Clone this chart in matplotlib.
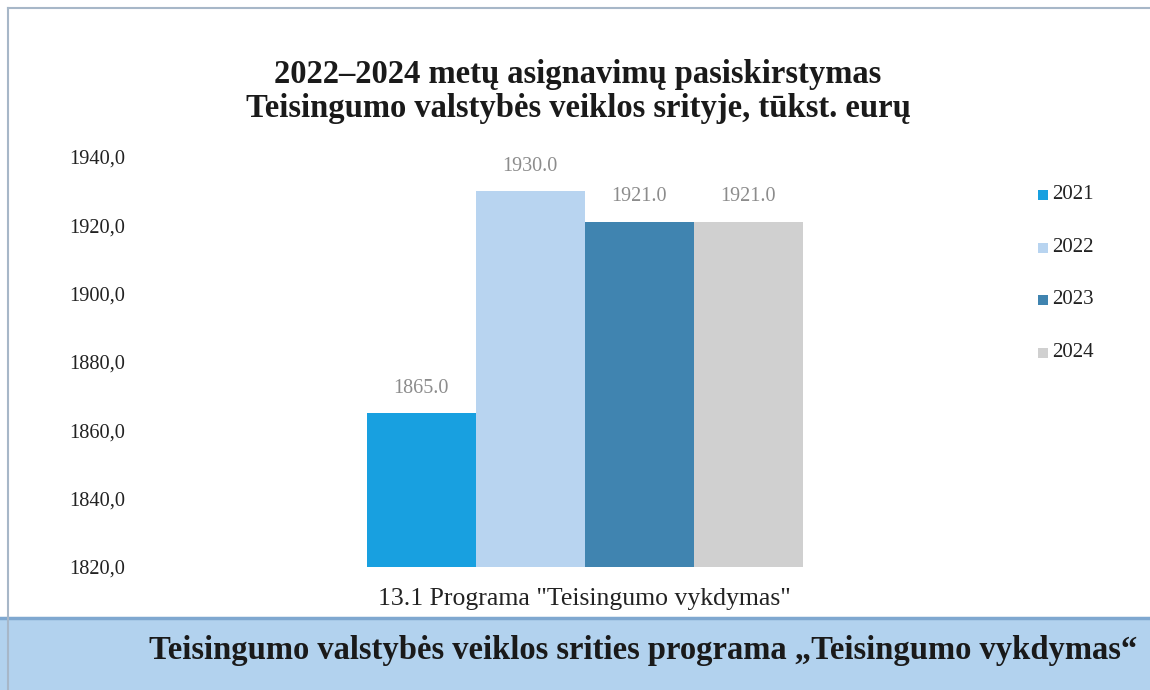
import matplotlib
matplotlib.use("Agg")
import matplotlib.pyplot as plt
from matplotlib.patches import Rectangle
from matplotlib.lines import Line2D

# data
years = ["2021", "2022", "2023", "2024"]
values = [1865.0, 1930.0, 1921.0, 1921.0]
colors = ["#18A0E0", "#B8D4F0", "#4084B0", "#D0D0D0"]
category = '13.1 Programa "Teisingumo vykdymas"'
yticks = [1820, 1840, 1860, 1880, 1900, 1920, 1940]

W, H = 1150, 690
fig = plt.figure(figsize=(W / 100, H / 100), dpi=100)
serif = "Liberation Serif"

# bottom band
band_top = 618
fig.add_artist(Rectangle((0, 0), 1, (H - band_top) / H, transform=fig.transFigure,
                         facecolor="#B2D2EE", edgecolor="none", zorder=-5))
fig.add_artist(Line2D([0, 1], [(H - band_top) / H] * 2, color="#7FA8D0", lw=2.5, zorder=-4))
fig.text(643 / W, 1 - 651 / H, "Teisingumo valstybės veiklos srities programa „Teisingumo vykdymas“",
         ha="center", va="center", fontsize=23.5, fontweight="bold", family=serif, color="#1a1a1a")

# frame lines of the scanned page
fig.add_artist(Line2D([8 / W, 8 / W], [1 - 8 / H, 0], color="#A7B7C8", lw=1.5))
fig.add_artist(Line2D([8 / W, 1], [1 - 8 / H, 1 - 8 / H], color="#A7B7C8", lw=1.5))

# title
fig.text(578 / W, 1 - 75 / H, "2022–2024 metų asignavimų pasiskirstymas",
         ha="center", va="center", fontsize=23.5, fontweight="bold", family=serif, color="#1a1a1a")
fig.text(578 / W, 1 - 109 / H, "Teisingumo valstybės veiklos srityje, tūkst. eurų",
         ha="center", va="center", fontsize=23.5, fontweight="bold", family=serif, color="#1a1a1a")

# axes
left, right, top, bottom = 140, 1030, 157, 567
ax = fig.add_axes([left / W, 1 - bottom / H, (right - left) / W, (bottom - top) / H])
ax.set_facecolor("none")
pxu = 109.0
x0 = 421.0
ax.set_xlim((left - x0) / pxu, (right - x0) / pxu)
ax.set_ylim(1820, 1940)

xs = list(range(len(years)))
ax.bar(xs, [v - 1820 for v in values], bottom=1820, width=1.0, color=colors, label=years)
for x, v in zip(xs, values):
    ax.annotate(f"{v:.1f}", (x, v), xytext=(0, 25), textcoords="offset pixels",
                ha="center", va="center", fontsize=14.5, family=serif, color="#8c8c8c")

for s in ax.spines.values():
    s.set_visible(False)
ax.set_yticks(yticks)
ax.set_yticklabels([f"{t},0" for t in yticks], family=serif, fontsize=14.7, color="#222222")
ax.set_xticks([1.5])
ax.set_xticklabels([category], family=serif, fontsize=18.5, color="#222222")
ax.tick_params(length=0)
ax.tick_params(axis="y", pad=11)
ax.tick_params(axis="x", pad=15)

# legend
for i, (y, c) in enumerate(zip(years, colors)):
    ly = 195 + 52.5 * i
    fig.add_artist(Rectangle((1038 / W, 1 - (ly + 5) / H), 10 / W, 10 / H,
                             transform=fig.transFigure, facecolor=c, edgecolor="none"))
    fig.text(1052 / W, 1 - ly / H, y, ha="left", va="center", fontsize=15,
             family=serif, color="#222222")

fig.savefig("out.png", dpi=100)
